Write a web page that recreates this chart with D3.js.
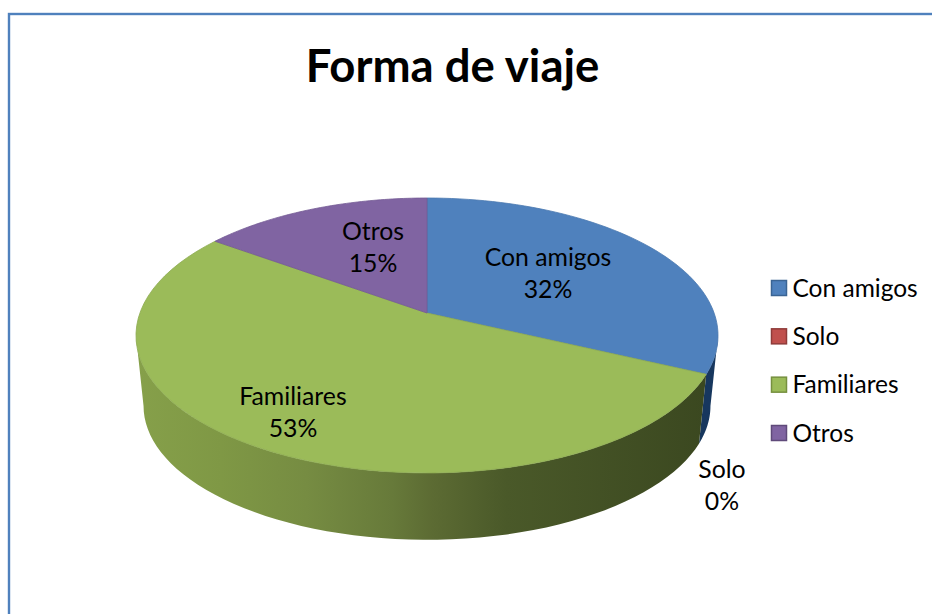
<!DOCTYPE html>
<html><head><meta charset="utf-8">
<script src="https://cdn.jsdelivr.net/npm/d3@7"></script>
<style>html,body{margin:0;padding:0;background:#fff}svg{display:block}text{font-family:Lato,"Noto Sans",sans-serif;fill:#000}</style>
</head><body><svg id="c" width="932" height="614"></svg>
<script>
const categories = ["Con amigos","Solo","Familiares","Otros"];
const values = [32,0,53,15];
const percentLabels = ["32%","0%","53%","15%"];
const faceColors = ["#4f81bd","#c0504d","#9bbb59","#8064a2"];
const edgeColors = ["#4a78b0","#8f3b39","#8dab50","#735a94"];
const legendEdges = ["#3a6494","#8f3b39","#76903f","#5f4a7a"];
const title = "Forma de viaje";

const svg = d3.select("#c");
svg.append("rect").attr("x",9).attr("y",14).attr("width",1000).attr("height",1000)
  .attr("fill","#fff").attr("stroke","#4f81bd").attr("stroke-width",2.4);

svg.append("text").attr("x",452.5).attr("y",82).attr("text-anchor","middle")
  .attr("font-size",45.5).attr("font-weight",700).text(title);

// perspective disc: unit circle -> screen
const cx=427, cy=313, k=0.1636, A=133.8, B=287.1;
const project=(t,s=1,dy=0)=>{const u=Math.sin(t),v=-Math.cos(t),w=1-k*v;
  return [cx+s*B*u/w, cy+dy+s*A*v/w];};
const arcs=d3.pie().sort(null).value(d=>d)(values);
const samples=(a,b,s,dy)=>d3.range(0,61).map(i=>project(a+(b-a)*i/60,s,dy));
const line=d3.line();
const closed=pts=>line(pts)+"Z";

// silhouette angles of the disc seen in perspective
const tRight=Math.acos(-k), tLeft=2*Math.PI-tRight;

const defs=svg.append("defs");
const g=defs.append("linearGradient").attr("id","wall").attr("gradientUnits","userSpaceOnUse")
  .attr("x1",135).attr("x2",706).attr("y1",0).attr("y2",0);
[[0,"#86a04a"],[0.15,"#7f9845"],[0.3,"#768c42"],[0.45,"#677a3a"],[0.52,"#5c6b33"],[0.65,"#4a5929"],[1,"#3b4820"]]
  .forEach(([o,c])=>g.append("stop").attr("offset",o).attr("stop-color",c));

// walls
const wallS=0.974, wallDy=71;
const wallFill=["#17375e",null,"url(#wall)",null];
arcs.forEach((d,i)=>{ if(!wallFill[i]||d.endAngle===d.startAngle) return;
  const a=Math.max(d.startAngle,tRight), b=Math.min(d.endAngle,tLeft);
  if(b<=a) return;
  const top=samples(a,b,1,0);
  const bot=samples(a,b,wallS,wallDy).reverse();
  svg.append("path").attr("d",closed(top.concat(bot))).attr("fill",wallFill[i]);
});
// top faces
arcs.forEach((d,i)=>{ if(d.endAngle===d.startAngle) return;
  svg.append("path").attr("d",closed([[cx,cy]].concat(samples(d.startAngle,d.endAngle,1,0))))
    .attr("fill",faceColors[i]).attr("stroke",edgeColors[i]).attr("stroke-width",0.8).attr("stroke-linejoin","round");
});

// data labels
const labelPos=[[548,266],[722,478],[293,405],[373,240]];
categories.forEach((c,i)=>{
  const t=svg.append("text").attr("text-anchor","middle").attr("font-size",24.8);
  t.append("tspan").attr("x",labelPos[i][0]).attr("y",labelPos[i][1]).text(c);
  t.append("tspan").attr("x",labelPos[i][0]).attr("y",labelPos[i][1]+32).text(percentLabels[i]);
});

// legend
const ly=d3.scalePoint().domain(categories).range([288,433]);
categories.forEach((c,i)=>{
  svg.append("rect").attr("x",771.5).attr("y",ly(c)-7.5).attr("width",15).attr("height",15)
    .attr("fill",faceColors[i]).attr("stroke",legendEdges[i]).attr("stroke-width",1.5);
  svg.append("text").attr("x",792.5).attr("y",ly(c)+8.5).attr("font-size",24.5).text(c);
});
</script></body></html>
